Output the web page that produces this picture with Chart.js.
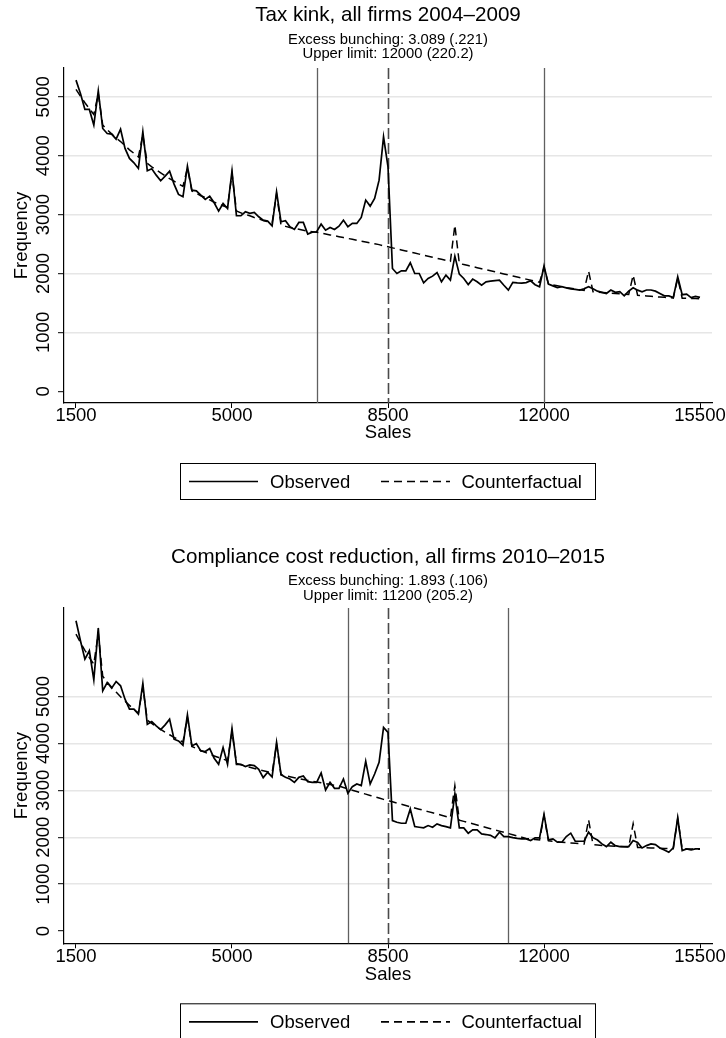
<!DOCTYPE html>
<html lang="en">
<head>
<meta charset="UTF-8">
<title>Bunching at the tax kink</title>
<script src="https://cdn.jsdelivr.net/npm/chart.js"></script>
<style>
  body { margin: 0; background: #fff; }
  canvas { display: block; }
</style>
</head>
<body>
<canvas id="taxKink" width="726" height="520"></canvas>
<canvas id="compliance" width="726" height="518"></canvas>
<script>
// Sales bins (lower edge of each 100-wide bin)
const salesBins = [
  1500, 1600, 1700, 1800, 1900, 2000, 2100, 2200, 2300, 2400,
  2500, 2600, 2700, 2800, 2900, 3000, 3100, 3200, 3300, 3400,
  3500, 3600, 3700, 3800, 3900, 4000, 4100, 4200, 4300, 4400,
  4500, 4600, 4700, 4800, 4900, 5000, 5100, 5200, 5300, 5400,
  5500, 5600, 5700, 5800, 5900, 6000, 6100, 6200, 6300, 6400,
  6500, 6600, 6700, 6800, 6900, 7000, 7100, 7200, 7300, 7400,
  7500, 7600, 7700, 7800, 7900, 8000, 8100, 8200, 8300, 8400,
  8500, 8600, 8700, 8800, 8900, 9000, 9100, 9200, 9300, 9400,
  9500, 9600, 9700, 9800, 9900, 10000, 10100, 10200, 10300, 10400,
  10500, 10600, 10700, 10800, 10900, 11000, 11100, 11200, 11300, 11400,
  11500, 11600, 11700, 11800, 11900, 12000, 12100, 12200, 12300, 12400,
  12500, 12600, 12700, 12800, 12900, 13000, 13100, 13200, 13300, 13400,
  13500, 13600, 13700, 13800, 13900, 14000, 14100, 14200, 14300, 14400,
  14500, 14600, 14700, 14800, 14900, 15000, 15100, 15200, 15300, 15400,
  15500
];

// Tax kink, 2004-2009
const taxKinkObserved = [
  5283, 5057, 4785, 4785, 4519, 5100, 4462, 4377, 4366, 4281,
  4450, 4123, 3953, 3880, 3783, 4406, 3744, 3778, 3670, 3574,
  3653, 3738, 3517, 3342, 3302, 3823, 3415, 3404, 3330, 3257,
  3313, 3200, 3059, 3189, 3104, 3738, 2980, 2980, 3048, 3020,
  3036, 2963, 2906, 2890, 2810, 3387, 2878, 2895, 2793, 2748,
  2867, 2867, 2668, 2702, 2708, 2838, 2736, 2782, 2748, 2804,
  2906, 2793, 2850, 2850, 2951, 3246, 3144, 3274, 3585, 4321,
  3812, 2085, 2000, 2045, 2045, 2182, 2000, 2000, 1842, 1915,
  1955, 2017, 1859, 1972, 1887, 2294, 1989, 1915, 1813, 1904,
  1859, 1802, 1859, 1870, 1880, 1887, 1800, 1717, 1850, 1840,
  1835, 1845, 1876, 1810, 1774, 2125, 1819, 1790, 1760, 1775,
  1757, 1740, 1730, 1717, 1740, 1774, 1740, 1700, 1680, 1660,
  1720, 1680, 1690, 1620, 1700, 1757, 1717, 1690, 1720, 1720,
  1700, 1660, 1620, 1620, 1590, 1943, 1640, 1650, 1590, 1610,
  1595
];
const taxKinkCounterfactual = [
  5125, 5010, 4900, 4800, 4700, 5050, 4520, 4440, 4370, 4300,
  4240, 4170, 4100, 4040, 3980, 4350, 3870, 3810, 3760, 3710,
  3660, 3610, 3570, 3520, 3480, 3790, 3400, 3360, 3320, 3290,
  3250, 3210, 3180, 3150, 3120, 3700, 3060, 3030, 3000, 2980,
  2950, 2930, 2900, 2880, 2860, 3350, 2820, 2800, 2780, 2765,
  2750, 2735, 2720, 2710, 2700, 2685, 2670, 2655, 2640, 2625,
  2610, 2595, 2580, 2565, 2550, 2535, 2520, 2505, 2490, 2470,
  2453, 2435, 2418, 2400, 2382, 2365, 2347, 2329, 2311, 2294,
  2276, 2258, 2241, 2223, 2205, 2821, 2170, 2152, 2134, 2117,
  2099, 2081, 2064, 2046, 2028, 2010, 1993, 1975, 1957, 1940,
  1922, 1904, 1886, 1869, 1851, 2100, 1820, 1805, 1790, 1775,
  1760, 1748, 1736, 1724, 1712, 2040, 1690, 1684, 1678, 1672,
  1666, 1660, 1654, 1648, 1642, 1972, 1630, 1624, 1618, 1612,
  1606, 1600, 1595, 1590, 1585, 1920, 1580, 1578, 1576, 1574,
  1572
];
const taxKinkMarkers = [6900, 8500, 12000];

// Compliance cost reduction, 2010-2015
const complianceObserved = [
  6616, 6189, 5797, 5975, 5356, 6459, 5121, 5299, 5178, 5320,
  5228, 4943, 4730, 4730, 4623, 5278, 4409, 4466, 4374, 4295,
  4395, 4516, 4089, 4053, 3961, 4609, 3947, 3996, 3840, 3826,
  3890, 3683, 3555, 3911, 3555, 4317, 3555, 3555, 3505, 3541,
  3527, 3448, 3270, 3384, 3285, 4021, 3333, 3277, 3241, 3170,
  3277, 3305, 3184, 3170, 3170, 3369, 3007, 3170, 3043, 3043,
  3241, 2936, 3078, 3135, 3099, 3617, 3135, 3348, 3596, 4340,
  4234, 2355, 2319, 2298, 2298, 2603, 2227, 2213, 2199, 2248,
  2213, 2284, 2248, 2227, 2199, 2922, 2199, 2199, 2085, 2156,
  2156, 2071, 2057, 2040, 1986, 2107, 2014, 2014, 1990, 1975,
  1964, 1964, 1929, 1986, 1986, 2486, 1943, 1964, 1893, 1893,
  2014, 2086, 1914, 1914, 1914, 2107, 1990, 1940, 1857, 1800,
  1893, 1821, 1800, 1800, 1800, 1929, 1890, 1771, 1821, 1857,
  1843, 1771, 1729, 1679, 1771, 2414, 1714, 1750, 1729, 1750,
  1750
];
const complianceCounterfactual = [
  6330, 6150, 5985, 5830, 5690, 6350, 5430, 5310, 5200, 5095,
  4995, 4900, 4810, 4725, 4645, 5200, 4495, 4425, 4360, 4298,
  4240, 4185, 4130, 4080, 4030, 4550, 3935, 3890, 3848, 3808,
  3770, 3733, 3698, 3665, 3633, 4250, 3572, 3544, 3517, 3490,
  3464, 3440, 3417, 3394, 3372, 3980, 3330, 3310, 3290, 3270,
  3250, 3230, 3212, 3195, 3178, 3160, 3142, 3125, 3108, 3091,
  3060, 3030, 3002, 2974, 2946, 2918, 2890, 2863, 2835, 2807,
  2780, 2754, 2728, 2702, 2676, 2650, 2624, 2598, 2572, 2546,
  2520, 2494, 2468, 2442, 2416, 3099, 2364, 2338, 2312, 2286,
  2260, 2234, 2208, 2182, 2156, 2130, 2104, 2078, 2052, 2026,
  2000, 1975, 1960, 1950, 1940, 2460, 1925, 1915, 1905, 1895,
  1885, 1878, 1870, 1862, 1855, 2371, 1840, 1832, 1825, 1818,
  1812, 1806, 1800, 1795, 1790, 2286, 1782, 1778, 1774, 1770,
  1767, 1764, 1761, 1758, 1755, 2400, 1752, 1750, 1748, 1746,
  1745
];
const complianceMarkers = [7600, 8500, 11200];

const xTickValues = [1500, 5000, 8500, 12000, 15500];
const yTickValues = [0, 1000, 2000, 3000, 4000, 5000];

const FONT = "'Liberation Sans', Arial, Helvetica, sans-serif";
Chart.defaults.color = '#000';
Chart.defaults.font.family = FONT;

// Marker lines under the data; headings, rotated y labels and the boxed legend on top
const panelDecor = {
  id: 'panelDecor',
  beforeDatasetsDraw(chart, args, opts) {
    const { ctx, chartArea, scales: { x } } = chart;
    ctx.save();
    opts.markers.forEach(value => {
      const dashed = value === opts.kink;
      const px = Math.round(x.getPixelForValue(value)) + 0.5;
      ctx.beginPath();
      ctx.strokeStyle = dashed ? '#4a4a4a' : '#606060';
      ctx.lineWidth = dashed ? 1.6 : 1.3;
      ctx.setLineDash(dashed ? [11, 4] : []);
      ctx.moveTo(px, chartArea.top);
      ctx.lineTo(px, chartArea.bottom);
      ctx.stroke();
    });
    ctx.restore();
  },
  afterDraw(chart, args, opts) {
    const { ctx, chartArea, scales: { y } } = chart;
    const cx = (chartArea.left + chartArea.right) / 2;
    ctx.save();
    ctx.fillStyle = '#000';

    // heading, centred over the plot region
    ctx.textAlign = 'center';
    ctx.textBaseline = 'middle';
    ctx.font = '20.6px ' + FONT;
    ctx.fillText(opts.title, cx, opts.titleY);
    ctx.font = '14.8px ' + FONT;
    opts.subtitle.forEach((line, i) => ctx.fillText(line, cx, opts.subY[i]));

    ctx.font = '18.5px ' + FONT;
    ctx.textBaseline = 'alphabetic';
    y.ticks.forEach(t => {
      ctx.save();
      ctx.translate(48.5, y.getPixelForValue(t.value));
      ctx.rotate(-Math.PI / 2);
      ctx.fillText(String(t.value), 0, 0);
      ctx.restore();
    });

    // legend box
    const top = chartArea.bottom + 60;
    const mid = top + 18.5;
    const sets = chart.data.datasets;
    ctx.strokeStyle = '#000';
    ctx.lineWidth = 1;
    ctx.strokeRect(180.5, top + 0.5, 415, 36);
    ctx.lineWidth = 1.7;
    ctx.beginPath();
    ctx.moveTo(189, mid);
    ctx.lineTo(258, mid);
    ctx.stroke();
    ctx.setLineDash(sets[1].borderDash);
    ctx.beginPath();
    ctx.moveTo(381, mid);
    ctx.lineTo(450, mid);
    ctx.stroke();
    ctx.setLineDash([]);
    ctx.textAlign = 'left';
    ctx.textBaseline = 'middle';
    ctx.fillText(sets[0].label, 270, mid + 1);
    ctx.fillText(sets[1].label, 461.5, mid + 1);
    ctx.restore();
  }
};

function pairs(values) {
  return salesBins.map((x, i) => ({ x: x, y: values[i] }));
}

function drawPanel(canvasId, panel) {
  return new Chart(document.getElementById(canvasId), {
    type: 'line',
    data: {
      datasets: [
        {
          label: 'Observed',
          data: pairs(panel.observed),
          borderColor: '#000',
          borderWidth: 1.7,
          pointRadius: 0,
          tension: 0
        },
        {
          label: 'Counterfactual',
          data: pairs(panel.counterfactual),
          borderColor: '#000',
          borderWidth: 1.5,
          borderDash: [8, 5],
          pointRadius: 0,
          tension: 0
        }
      ]
    },
    options: {
      responsive: false,
      animation: false,
      devicePixelRatio: 1,
      layout: { padding: { top: panel.plotTop, right: 14, bottom: 0, left: 0 } },
      plugins: {
        legend: { display: false },
        tooltip: { enabled: false },
        title: { display: false },
        panelDecor: {
          markers: panel.markers,
          kink: 8500,
          title: panel.title,
          subtitle: panel.subtitle,
          titleY: panel.titleY,
          subY: panel.subY
        }
      },
      scales: {
        x: {
          type: 'linear',
          min: 1231,
          max: 15769,
          afterBuildTicks: s => { s.ticks = xTickValues.map(v => ({ value: v })); },
          afterFit: s => { s.height = panel.xAxisHeight; },
          ticks: {
            font: { size: 18.5, lineHeight: 1 },
            padding: -1,
            maxRotation: 0,
            callback: v => String(v)
          },
          grid: { drawOnChartArea: false, tickLength: 5, tickColor: '#000', tickWidth: 1 },
          border: { display: true, color: '#000', width: 1.2 },
          title: {
            display: true,
            text: 'Sales',
            font: { size: 18.5, lineHeight: 1.2 },
            padding: { top: 0, bottom: panel.salesPad }
          }
        },
        y: {
          min: panel.yMin,
          max: panel.yMax,
          afterBuildTicks: s => { s.ticks = yTickValues.map(v => ({ value: v })); },
          afterFit: s => { s.width = 64; },
          ticks: { display: false },
          grid: {
            color: c => (c.tick && c.tick.value === 0 ? 'rgba(0,0,0,0)' : '#e6e6e6'),
            lineWidth: 1.4,
            tickLength: 6,
            tickColor: '#000',
            tickWidth: 1
          },
          border: { display: true, color: '#000', width: 1.2 },
          title: {
            display: true,
            text: 'Frequency',
            font: { size: 18.5, lineHeight: 1.2 },
            padding: { top: 10.9, bottom: 0 }
          }
        }
      }
    },
    plugins: [panelDecor]
  });
}

drawPanel('taxKink', {
  title: 'Tax kink, all firms 2004\u20132009',
  subtitle: ['Excess bunching: 3.089 (.221)', 'Upper limit: 12000 (220.2)'],
  titleY: 15,
  subY: [40, 54],
  plotTop: 68,
  xAxisHeight: 117,
  salesPad: 75.9,
  yMin: -199,
  yMax: 5489,
  observed: taxKinkObserved,
  counterfactual: taxKinkCounterfactual,
  markers: taxKinkMarkers
});

drawPanel('compliance', {
  title: 'Compliance cost reduction, all firms 2010\u20132015',
  subtitle: ['Excess bunching: 1.893 (.106)', 'Upper limit: 11200 (205.2)'],
  titleY: 37,
  subY: [61, 76],
  plotTop: 88,
  xAxisHeight: 94.7,
  salesPad: 51.9,
  yMin: -262,
  yMax: 6887,
  observed: complianceObserved,
  counterfactual: complianceCounterfactual,
  markers: complianceMarkers
});
</script>
</body>
</html>
